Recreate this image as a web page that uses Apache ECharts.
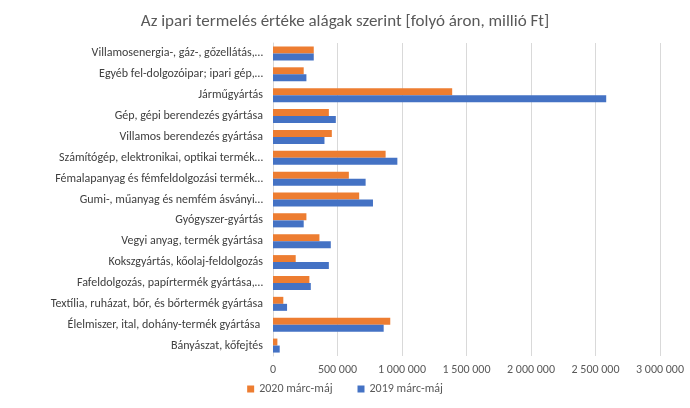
<!DOCTYPE html>
<html><head><meta charset="utf-8">
<script src="https://cdn.jsdelivr.net/npm/echarts@6/dist/echarts.min.js"></script>
<style>html,body{margin:0;padding:0;background:#fff}#chart{width:690px;height:408px}</style>
</head><body><div id="chart"></div>
<script>
// kategóriák alulról felfelé
var categories = ['Bányászat, kőfejtés','Élelmiszer, ital, dohány-termék gyártása ','Textília, ruházat, bőr, és bőrtermék gyártása','Fafeldolgozás, papírtermék gyártása,…','Kokszgyártás, kőolaj-feldolgozás','Vegyi anyag, termék gyártása','Gyógyszer-gyártás','Gumi-, műanyag és nemfém ásványi…','Fémalapanyag és fémfeldolgozási termék…','Számítógép, elektronikai, optikai termék…','Villamos berendezés gyártása','Gép, gépi berendezés gyártása','Járműgyártás','Egyéb fel-dolgozóipar; ipari gép,…','Villamosenergia-, gáz-, gőzellátás,…'];
var data2020 = [34000,909000,80000,282000,176000,360000,259000,668000,588000,873000,456000,433000,1389000,238000,316000];
var data2019 = [52000,858000,109000,293000,433000,448000,238000,775000,718000,964000,399000,487000,2583000,259000,316000];
var xTicks = [0,500000,1000000,1500000,2000000,2500000,3000000];

var chart = echarts.init(document.getElementById('chart'));
var font = 'Calibri, "Liberation Sans", "DejaVu Sans", sans-serif';
chart.setOption({
	animation:false,
	textStyle:{fontFamily:font},
	title:{text:'Az ipari termelés értéke alágak szerint [folyó áron, millió Ft]',left:'center',top:8,
		textStyle:{fontSize:17,fontWeight:'normal',color:'#595959',fontFamily:font}},
	legend:{bottom:8,itemWidth:7,itemHeight:7,itemGap:25,icon:'rect',
		data:['2020 márc-máj','2019 márc-máj'],textStyle:{fontSize:12,color:'#595959'}},
	grid:{left:273,right:30,top:43,bottom:52,containLabel:false},
	xAxis:{type:'value',min:xTicks[0],max:xTicks[xTicks.length-1],interval:500000,
		axisLine:{show:false},axisTick:{show:false},
		splitLine:{lineStyle:{color:'#d9d9d9'}},
		axisLabel:{color:'#595959',fontSize:12,
			formatter:function(v){return String(v).replace(/\B(?=(\d{3})+(?!\d))/g,' ');}}},
	yAxis:{type:'category',data:categories,
		axisLine:{lineStyle:{color:'#d9d9d9'}},axisTick:{show:false},
		axisLabel:{color:'#404040',fontSize:12,margin:10}},
	series:[
		{name:'2020 márc-máj',type:'bar',data:data2020,barWidth:7,barGap:'0%',itemStyle:{color:'#ed7d31'}},
		{name:'2019 márc-máj',type:'bar',data:data2019,barWidth:7,itemStyle:{color:'#4472c4'}}
	]
});
</script></body></html>
